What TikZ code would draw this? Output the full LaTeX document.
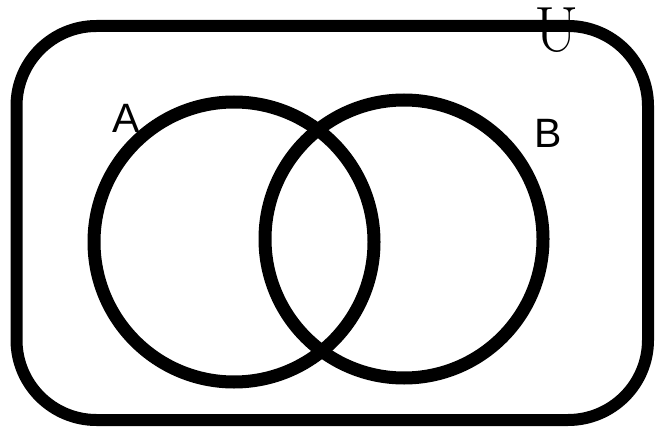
\documentclass[tikz,border=0pt]{standalone}
\usepackage{fontspec}
\newfontfamily\setfont{Liberation Sans}
\usetikzlibrary{positioning}

\begin{document}
\begin{tikzpicture}[x=1pt,y=-1pt,
 universe/.style={draw,line width=12pt,rounded corners=80pt},
 setcirc/.style={draw,circle,line width=13pt,inner sep=0pt},
 setlabel/.style={inner sep=0pt,font=\setfont\fontsize{41}{41}\selectfont},
 unilabel/.style={inner sep=0pt,font=\fontsize{64}{64}\selectfont}]
\useasboundingbox (0,0) rectangle (655,430);
% universal set
\draw[universe] (16.5,26) rectangle (648,420);
\node[unilabel] (U) at (557,30) {U};
% the two sets
\node[setcirc,minimum size=280pt] (A) at (234,242) {};
\node[setcirc,minimum size=278pt] (B) at (404,239) {};
\node[setlabel] (lA) at (126,118) {A};
\node[setlabel] (lB) at (548,133) {B};
\end{tikzpicture}
\end{document}
